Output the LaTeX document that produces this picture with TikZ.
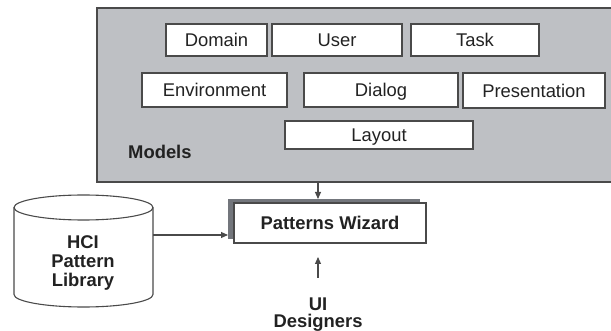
\documentclass[tikz,border=0pt]{standalone}
\usepackage{fontspec}
\setmainfont{Liberation Sans}
\usetikzlibrary{arrows.meta}
\definecolor{modelgray}{HTML}{BEC0C4}
\definecolor{shadowgray}{HTML}{73767C}
\definecolor{edgecol}{HTML}{4A4A4A}
\definecolor{ink}{HTML}{222222}
\begin{document}
\begin{tikzpicture}[x=1pt,y=-1pt,
  every node/.style={font=\fontsize{18.4}{19}\selectfont, text=ink},
  mbox/.style={draw=edgecol, line width=1.1pt, fill=white, inner sep=0pt,
    text height=13.2pt, text depth=0pt},
  arr/.style={draw=edgecol, line width=1.1pt, -{Triangle[length=7pt,width=6pt]}},
]
\useasboundingbox (0,0) rectangle (611,331);
\fill[white] (0,0) rectangle (611,331);
% models container
\node[draw=edgecol, line width=1.4pt, fill=modelgray, minimum width=523pt,
  minimum height=174pt, inner sep=0pt] (models) at (358.5,95) {};
\node[mbox, minimum width=101pt, minimum height=32pt] (domain) at (216.5,40) {Domain};
\node[mbox, minimum width=130pt, minimum height=32pt] (user) at (337,40) {User};
\node[mbox, minimum width=128pt, minimum height=32pt] (task) at (475,40) {Task};
\node[mbox, minimum width=145pt, minimum height=34pt] (env) at (214.5,90) {Environment};
\node[mbox, minimum width=154pt, minimum height=34pt] (dialog) at (381,90) {Dialog};
\node[mbox, minimum width=142pt, minimum height=35pt] (pres) at (534,90.5) {Presentation};
\node[mbox, minimum width=188pt, minimum height=28pt] (layout) at (379,135) {Layout};
\node[anchor=base west, font=\fontsize{18.4}{19}\selectfont\bfseries, inner sep=0pt] (mlabel) at (128,159) {Models};
% patterns wizard with shadow
\fill[shadowgray] (228,199) rectangle (420,239);
\node[mbox, font=\fontsize{18.4}{19}\selectfont\bfseries, minimum width=192pt,
  minimum height=40pt] (pw) at (330,223) {Patterns Wizard};
% cylinder
\draw[edgecol, line width=1.1pt, fill=white] (14,207.5) -- (14,294.5)
  arc (180:360:69.5pt and 12.5pt) -- (153,207.5);
\draw[edgecol, line width=1.1pt, fill=white] (83.5,207.5) ellipse (69.5pt and 12.5pt);
\node[align=center, font=\fontsize{18.4}{19}\selectfont\bfseries, inner sep=0pt,
  anchor=base] (lib) at (83,286.5) {HCI\\Pattern\\Library};
% designers
\node[align=center, font=\fontsize{18.4}{17}\selectfont\bfseries, inner sep=0pt,
  anchor=base] (ui) at (318,327.5) {UI\\Designers};
% connectors
\coordinate (a1) at (318,199);
\draw[arr] (models.south -| a1) -- (a1);
\coordinate (cylr) at (153,235);
\coordinate (a2) at (228,235);
\draw[arr] (cylr) -- (a2);
\coordinate (a3s) at (318,278);
\coordinate (a3e) at (318,257);
\draw[arr] (a3s) -- (a3e);
\end{tikzpicture}
\end{document}
